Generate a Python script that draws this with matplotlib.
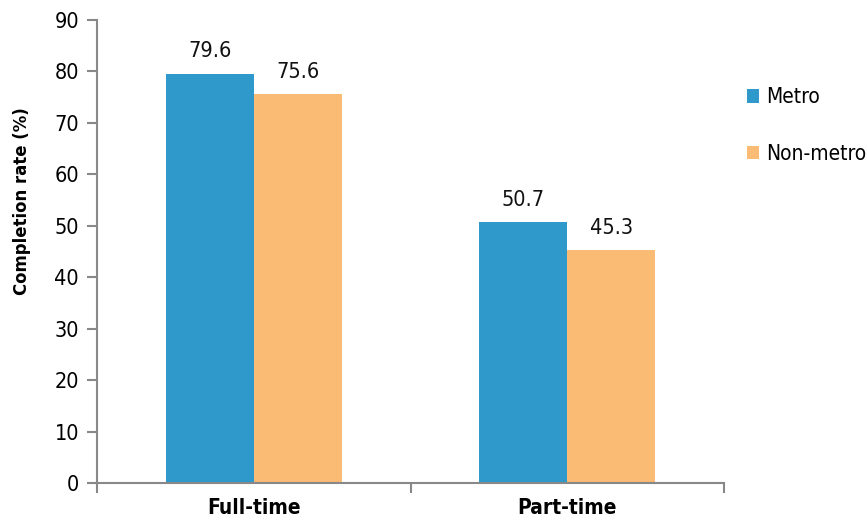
import matplotlib
matplotlib.use("Agg")
import matplotlib.pyplot as plt
import numpy as np

plt.rcParams['font.family'] = ['DejaVu Sans']
plt.rcParams['font.stretch'] = 'condensed'

categories = ["Full-time", "Part-time"]
metro = [79.6, 50.7]
non_metro = [75.6, 45.3]
series_names = ["Metro", "Non-metro"]
colors = ["#2E99CA", "#FABB74"]

fig = plt.figure(figsize=(8.67, 5.2), dpi=100)
ax = fig.add_axes([0.1119, 0.0712, 0.7232, 0.8903])

x = np.arange(len(categories))
w = 0.28
b1 = ax.bar(x - w/2, metro, w, color=colors[0], label=series_names[0])
b2 = ax.bar(x + w/2, non_metro, w, color=colors[1], label=series_names[1])

for bars, vals in ((b1, metro), (b2, non_metro)):
    for r, v in zip(bars, vals):
        ax.text(r.get_x() + r.get_width()/2, v + 2.4, f"{v:.1f}",
                ha="center", va="bottom", fontsize=15.5, color="#111111")

ax.set_xlim(-0.5, 1.5)
ax.set_ylim(0, 90)
ax.set_yticks(np.arange(0, 91, 10))
ax.tick_params(axis="y", labelsize=15.5, length=7, width=1.5, color="#888888", pad=6)
ax.set_xticks([-0.5, 0.5, 1.5])
ax.set_xticklabels([])
ax.set_xticks(x, minor=True)
ax.set_xticklabels(categories, minor=True, fontsize=15, fontweight="bold")
ax.tick_params(axis="x", which="major", length=7, width=1.5, color="#888888")
ax.tick_params(axis="x", which="minor", length=0, pad=11)

for s in ("top", "right"):
    ax.spines[s].set_visible(False)
for s in ("left", "bottom"):
    ax.spines[s].set_color("#888888")
    ax.spines[s].set_linewidth(1.5)

ax.set_ylabel("Completion rate (%)", fontsize=13.2, fontweight="bold")
ax.yaxis.set_label_coords(-0.105, 0.609)

ax.legend(loc="upper left", bbox_to_anchor=(1.013, 0.886), frameon=False,
          fontsize=15, handlelength=0.6, handleheight=0.6, handletextpad=0.35,
          labelspacing=1.75, borderaxespad=0.3)

fig.savefig("out.png", dpi=100)
